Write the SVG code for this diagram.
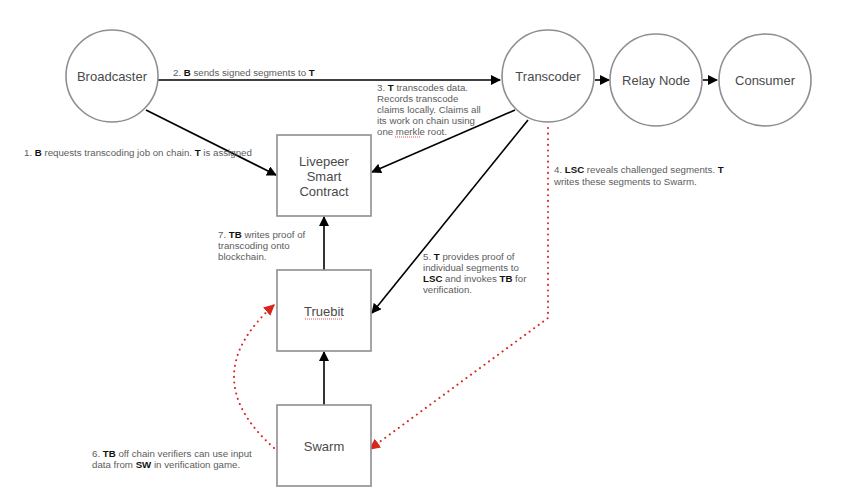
<svg xmlns="http://www.w3.org/2000/svg" width="845" height="502" viewBox="0 0 845 502">
<style>
.node{fill:#fff;stroke:#8e8e93;stroke-width:1.6}
.nl{font-family:"Liberation Sans",Arial,sans-serif;font-size:13px;fill:#4a4a4a;text-anchor:middle}
.lbl{font-family:"Liberation Sans",Arial,sans-serif;font-size:9.7px;fill:#5c5c5c}
.lbl tspan.b{font-weight:bold;fill:#111}
.c{fill:none;stroke:#000;stroke-width:1.6}
.r{fill:none;stroke:#d9261c;stroke-width:2;stroke-dasharray:0.1 5.5;stroke-linecap:round}
.sq{fill:none;stroke:#e02020;stroke-width:0.8;stroke-dasharray:1 1}
</style>
<defs>
<marker id="ah" viewBox="0 0 10 10" refX="9" refY="5" markerWidth="10" markerHeight="10" markerUnits="userSpaceOnUse" orient="auto">
<path d="M0,0 L10,5 L0,10 z" fill="#000"/>
</marker>
<marker id="rh" viewBox="0 0 10 10" refX="9" refY="5" markerWidth="11" markerHeight="11" markerUnits="userSpaceOnUse" orient="auto">
<path d="M0,0 L10,5 L0,10 z" fill="#d9261c"/>
</marker>
</defs>
<rect width="845" height="502" fill="#fff"/>
<g id="connectors">
<line class="c" x1="158" y1="80" x2="500" y2="80" marker-end="url(#ah)"/>
<line class="c" x1="146" y1="110" x2="276" y2="175" marker-end="url(#ah)"/>
<line class="c" x1="515" y1="110" x2="372" y2="172" marker-end="url(#ah)"/>
<line class="c" x1="528" y1="120" x2="372" y2="313" marker-end="url(#ah)"/>
<line class="c" x1="595" y1="80" x2="609" y2="80" marker-end="url(#ah)"/>
<line class="c" x1="703" y1="80" x2="717" y2="80" marker-end="url(#ah)"/>
<line class="c" x1="324" y1="270" x2="324" y2="217" marker-end="url(#ah)"/>
<line class="c" x1="324" y1="405" x2="324" y2="352" marker-end="url(#ah)"/>
<path class="r" d="M548,128 L548,318 L370,449" marker-end="url(#rh)"/>
<path class="r" d="M274,448 Q194,377 274,305" marker-end="url(#rh)"/>
</g>
<g id="broadcaster"><circle class="node" cx="112" cy="76" r="46"/><text class="nl" x="112" y="81">Broadcaster</text></g>
<g id="transcoder"><circle class="node" cx="548" cy="76" r="46"/><text class="nl" x="548" y="81">Transcoder</text></g>
<g id="relay"><circle class="node" cx="656" cy="80" r="46"/><text class="nl" x="656" y="85">Relay Node</text></g>
<g id="consumer"><circle class="node" cx="765" cy="80" r="46"/><text class="nl" x="765" y="85">Consumer</text></g>
<g id="lsc"><rect class="node" x="277" y="135" width="94" height="81"/>
<text class="nl" x="324" y="166">Livepeer</text><text class="nl" x="324" y="181">Smart</text><text class="nl" x="324" y="196">Contract</text></g>
<g id="truebit"><rect class="node" x="277" y="270" width="94" height="81"/><text class="nl" x="324" y="316">Truebit</text>
<path class="sq" d="M305,319 L343,319"/></g>
<g id="swarm"><rect class="node" x="277" y="405" width="94" height="81"/><text class="nl" x="324" y="451">Swarm</text></g>
<g id="labels">
<text class="lbl" x="24" y="156">1. <tspan class="b">B</tspan> requests transcoding job on chain. <tspan class="b">T</tspan> is assigned</text>
<text class="lbl" x="173" y="76">2. <tspan class="b">B</tspan> sends signed segments to <tspan class="b">T</tspan></text>
<text class="lbl" x="377" y="91">3. <tspan class="b">T</tspan> transcodes data.</text>
<text class="lbl" x="377" y="102">Records transcode</text>
<text class="lbl" x="377" y="113">claims locally. Claims all</text>
<text class="lbl" x="377" y="124">its work on chain using</text>
<text class="lbl" x="377" y="135">one merkle root.</text>
<path class="sq" d="M395,137 L421,137"/>
<text class="lbl" x="554" y="173">4. <tspan class="b">LSC</tspan> reveals challenged segments. <tspan class="b">T</tspan></text>
<text class="lbl" x="554" y="185">writes these segments to Swarm.</text>
<text class="lbl" x="423" y="260">5. <tspan class="b">T</tspan> provides proof of</text>
<text class="lbl" x="423" y="271">individual segments to</text>
<text class="lbl" x="423" y="282"><tspan class="b">LSC</tspan> and invokes <tspan class="b">TB</tspan> for</text>
<text class="lbl" x="423" y="293">verification.</text>
<text class="lbl" x="92" y="457">6. <tspan class="b">TB</tspan> off chain verifiers can use input</text>
<text class="lbl" x="92" y="468">data from <tspan class="b">SW</tspan> in verification game.</text>
<text class="lbl" x="218" y="238">7. <tspan class="b">TB</tspan> writes proof of</text>
<text class="lbl" x="218" y="249">transcoding onto</text>
<text class="lbl" x="218" y="260">blockchain.</text>
</g>
</svg>
